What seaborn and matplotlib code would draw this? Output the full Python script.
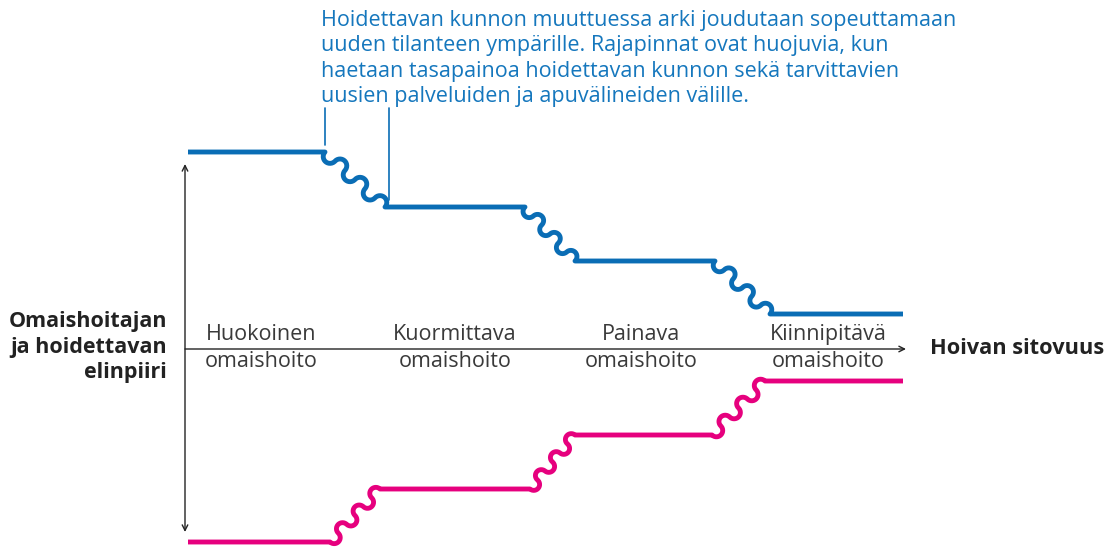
import matplotlib
matplotlib.use("Agg")
import matplotlib.pyplot as plt
import numpy as np
import pandas as pd
import seaborn as sns

# levels of the two boundaries (picture units, y grows downward)
blue_levels = [152, 207, 261, 314]
blue_steps = [(325, 385), (525, 575), (715, 770)]
pink_levels = [542, 489, 435, 381]
pink_steps = [(330, 380), (530, 575), (712, 765)]
line_start, line_end = 188, 903

stage_names = ["Huokoinen\nomaishoito", "Kuormittava\nomaishoito",
               "Painava\nomaishoito", "Kiinnipitävä\nomaishoito"]
stage_x = [261, 455, 641, 828]

note = ("Hoidettavan kunnon muuttuessa arki joudutaan sopeuttamaan\n"
        "uuden tilanteen ympärille. Rajapinnat ovat huojuvia, kun\n"
        "haetaan tasapainoa hoidettavan kunnon sekä tarvittavien\n"
        "uusien palveluiden ja apuvälineiden välille.")

BLUE = "#0a6db5"
NOTE_BLUE = "#1577bd"
PINK = "#e6007e"
GREY = "#3a3a3a"


def wavy(x0, y0, x1, y1, arcs=6, n=30):
    # chain of alternating half circles along the diagonal
    dx, dy = x1 - x0, y1 - y0
    length = np.hypot(dx, dy)
    ux, uy = dx / length, dy / length
    vx, vy = -uy, ux
    r = length / (2 * arcs)
    xs, ys = [], []
    for k in range(arcs):
        side = 1 if k % 2 == 0 else -1
        th = np.linspace(np.pi, 0, n)
        along = (2 * k + 1) * r + r * np.cos(th)
        perp = side * r * np.sin(th)
        xs.extend(x0 + ux * along + vx * perp)
        ys.extend(y0 + uy * along + vy * perp)
    return xs, ys


def build_path(levels, steps):
    xs, ys = [line_start], [levels[0]]
    for i, (a, b) in enumerate(steps):
        wx, wy = wavy(a, levels[i], b, levels[i + 1])
        xs.extend(wx)
        ys.extend(wy)
    xs.append(line_end)
    ys.append(levels[-1])
    return xs, ys


rows = []
for name, lv, st in [("blue", blue_levels, blue_steps), ("pink", pink_levels, pink_steps)]:
    xs, ys = build_path(lv, st)
    for i, (x, y) in enumerate(zip(xs, ys)):
        rows.append({"series": name, "order": i, "x": x, "y": y})
df = pd.DataFrame(rows)

sns.set_style("white")
plt.rcParams["font.family"] = ["Open Sans", "DejaVu Sans"]

fig = plt.figure(figsize=(11.16, 5.47), dpi=100)
ax = fig.add_axes([0, 0, 1, 1])

sns.lineplot(data=df, x="x", y="y", hue="series", units="series", estimator=None,
             sort=False, palette={"blue": BLUE, "pink": PINK}, linewidth=3.5,
             legend=False, ax=ax, solid_capstyle="butt", solid_joinstyle="round")

# axes arrows
ax.annotate("", xy=(185, 164), xytext=(185, 532),
            arrowprops=dict(arrowstyle="<->", color="#222222", lw=1.0,
                            mutation_scale=10, shrinkA=0, shrinkB=0))
ax.annotate("", xy=(906, 349), xytext=(185, 349),
            arrowprops=dict(arrowstyle="->", color="#222222", lw=1.0,
                            mutation_scale=10, shrinkA=0, shrinkB=0))

# annotation pointer lines
ax.plot([325, 325], [108, 145], color=BLUE, lw=1.2)
ax.plot([389, 389], [108, 200], color=BLUE, lw=1.2)
ax.text(321, 10, note, color=NOTE_BLUE, fontsize=15.5, va="top", ha="left",
        linespacing=1.28)

for sx, name in zip(stage_x, stage_names):
    ax.text(sx, 348, name, color=GREY, fontsize=15.5, ha="center", va="center",
            linespacing=1.35)

ax.text(167, 347, "Omaishoitajan\nja hoidettavan\nelinpiiri", color="#222222",
        fontsize=15.5, fontweight="bold", ha="right", va="center",
        linespacing=1.3)
ax.text(930, 349, "Hoivan sitovuus", color="#222222", fontsize=15.7,
        fontweight="bold", ha="left", va="center")

ax.set_xlim(0, 1116)
ax.set_ylim(547, 0)
ax.axis("off")

fig.savefig("out.png", dpi=100)
plt.close(fig)
